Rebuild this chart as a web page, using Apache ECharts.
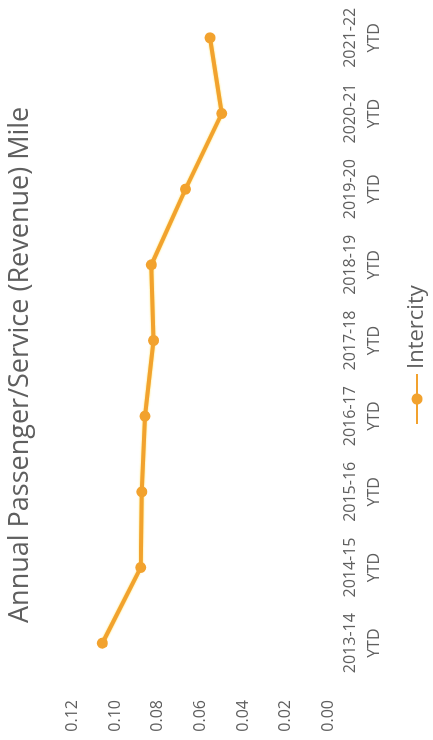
<!DOCTYPE html>
<html>
<head>
<meta charset="utf-8">
<script src="https://cdn.jsdelivr.net/npm/echarts@6/dist/echarts.min.js"></script>
<style>
  html, body { margin: 0; padding: 0; background: #fff; overflow: hidden; }
  body { width: 433px; height: 740px; position: relative; }
  /* the chart is laid out landscape then turned a quarter turn counter-clockwise */
  #chart {
    position: absolute;
    left: 0;
    top: 0;
    width: 740px;
    height: 433px;
    transform-origin: 0 0;
    transform: translateY(740px) rotate(-90deg);
  }
</style>
</head>
<body>
<div id="chart"></div>
<script>
const categories = [
  "2013-14\nYTD", "2014-15\nYTD", "2015-16\nYTD", "2016-17\nYTD", "2017-18\nYTD",
  "2018-19\nYTD", "2019-20\nYTD", "2020-21\nYTD", "2021-22\nYTD"
];
const intercity = [0.106, 0.088, 0.0875, 0.086, 0.082, 0.083, 0.067, 0.050, 0.0555];
const valueTicks = { min: 0, max: 0.12, interval: 0.02 };

const textColor = "#5f5f5f";
const lineColor = "#F2A22E";
const font = "'Open Sans', 'Noto Sans', sans-serif";

const chart = echarts.init(document.getElementById("chart"));

const option = {
  backgroundColor: "#fff",
  animation: false,
  title: {
    text: "Annual Passenger/Service (Revenue) Mile",
    left: 117,
    top: 7,
    padding: 0,
    textStyle: {
      color: textColor,
      fontFamily: font,
      fontSize: 27,
      fontWeight: "normal"
    }
  },
  legend: {
    data: ["Intercity"],
    left: 315,
    top: 406,
    padding: 0,
    itemWidth: 50,
    itemHeight: 14,
    itemGap: 5,
    textStyle: {
      color: textColor,
      fontFamily: font,
      fontSize: 22
    }
  },
  grid: {
    left: 59,
    top: 72.5,
    width: 683.5,
    height: 255.8,
    containLabel: false
  },
  xAxis: {
    type: "category",
    data: categories,
    boundaryGap: true,
    axisLine: { show: false },
    axisTick: { show: false },
    axisLabel: {
      color: textColor,
      fontFamily: font,
      fontSize: 16,
      lineHeight: 24,
      margin: 10,
      interval: 0,
      align: "center"
    },
    splitLine: { show: false }
  },
  yAxis: {
    type: "value",
    min: valueTicks.min,
    max: valueTicks.max,
    interval: valueTicks.interval,
    axisLine: { show: false },
    axisTick: { show: false },
    splitLine: { show: false },
    axisLabel: {
      color: textColor,
      fontFamily: font,
      fontSize: 16,
      margin: 19,
      formatter: v => v.toFixed(2)
    }
  },
  series: [
    {
      name: "Intercity",
      type: "line",
      data: intercity,
      symbol: "circle",
      symbolSize: 11,
      showSymbol: true,
      itemStyle: { color: lineColor },
      lineStyle: {
        color: lineColor,
        width: 4,
        shadowColor: "rgba(255, 210, 0, 0.7)",
        shadowBlur: 2
      }
    }
  ]
};

chart.setOption(option);
</script>
</body>
</html>
